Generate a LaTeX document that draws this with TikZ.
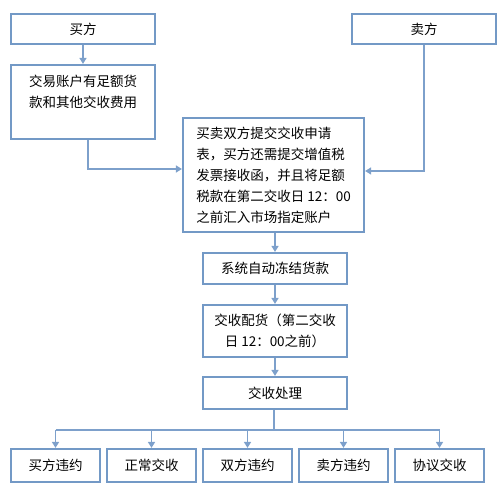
\documentclass[tikz,border=0pt]{standalone}
\usepackage{fontspec}
\usepackage{tikz}
\usetikzlibrary{arrows.meta,positioning,calc}
\newfontfamily\cjk{Noto Sans CJK SC}
\definecolor{frame}{HTML}{7399C6}
\definecolor{wire}{HTML}{7DA0CB}
\tikzset{
  box/.style={draw=frame, line width=2.2pt, fill=white, minimum width=144pt,
              minimum height=30pt, inner sep=2pt, align=center,
              font=\cjk\fontsize{13.5pt}{21pt}\selectfont},
  leaf/.style={box, minimum width=89pt, minimum height=33pt},
  flow/.style={-{Triangle[length=6pt,width=7pt]}, line width=1.5pt, draw=wire},
  bus/.style={line width=1.5pt, draw=wire}
}

\begin{document}
\begin{tikzpicture}[x=1pt,y=1pt]
    \useasboundingbox (0,0) rectangle (502,-502);
    % parties
    \node[box] (buyer) at (83,-29) {买方};
    \node[box] (seller) at (424,-29) {卖方};
    \node[box, minimum height=74pt, align=left] (fund) at (83,-102)
      {交易账户有足额货\\款和其他交收费用\\\mbox{}};
    \node[box, minimum width=181pt, minimum height=114pt, align=left] (apply) at (273.5,-175)
      {买卖双方提交交收申请\\表，买方还需提交增值税\\发票接收函，并且将足额\\税款在第二交收日 12：00\\之前汇入市场指定账户};
    % main line
    \node[box, minimum height=31pt] (freeze) at (275,-268.5) {系统自动冻结货款};
    \node[box, minimum height=52pt] (match) at (275,-331) {交收配货（第二交收\\日 12：00之前）};
    \node[box, minimum height=32pt] (handle) at (275,-393) {交收处理};
    % results
    \node[leaf] (r1) at (55.5,-465.5) {买方违约};
    \node[leaf] (r2) at (151.5,-465.5) {正常交收};
    \node[leaf] (r3) at (247.5,-465.5) {双方违约};
    \node[leaf] (r4) at (343.5,-465.5) {卖方违约};
    \node[leaf] (r5) at (439.5,-465.5) {协议交收};
    \coordinate (fork) at ($(handle.south)+(-1,-20)$);

    \draw[flow] (buyer) -- (fund);
    \draw[flow] ([xshift=5pt]fund.south) |- ([yshift=6pt]apply.west);
    \draw[flow] (seller.south) |- ([yshift=4pt]apply.east);
    \draw[flow] (apply.south -| freeze) -- (freeze);
    \draw[flow] (freeze) -- (match);
    \draw[flow] (match) -- (handle);
    \draw[bus] (handle.south -| fork) -- (fork);
    \draw[bus] (r1 |- fork) -- (r5 |- fork);
    \foreach \r in {r1,r2,r3,r4,r5}
      \draw[flow] (\r |- fork) -- (\r);
  \end{tikzpicture}
\end{document}
